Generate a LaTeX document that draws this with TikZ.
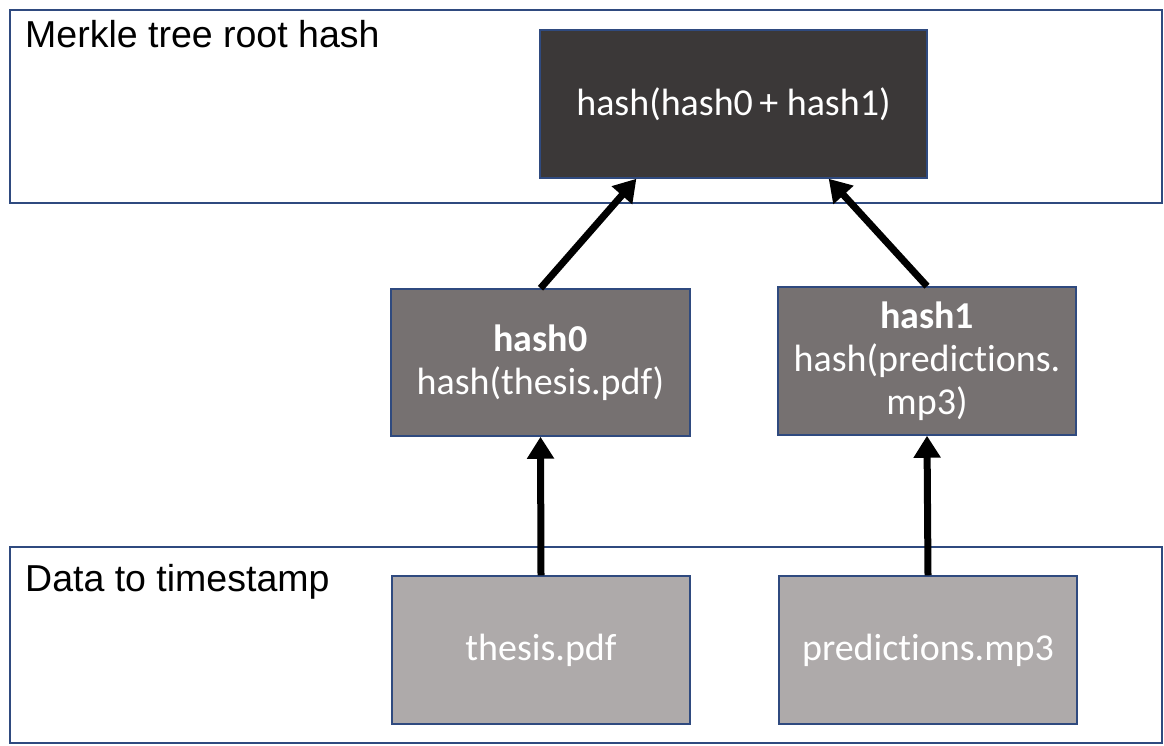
\documentclass[tikz,border=0pt]{standalone}
\usepackage{fontspec}
\setmainfont{Carlito}[Ligatures=NoCommon]
\newfontfamily\arialf{Liberation Sans}
\usetikzlibrary{arrows.meta,calc}
\definecolor{navy}{HTML}{2F4A7F}
\definecolor{rootc}{HTML}{3B3838}
\definecolor{midc}{HTML}{767171}
\definecolor{leafc}{HTML}{AEAAAA}
\tikzset{
  box/.style={draw=navy, line width=1.5pt, text=white, inner sep=0pt, align=center,
    font=\fontsize{38}{43}\selectfont},
  panel/.style={draw=navy, line width=1.5pt, fill=white, inner sep=0pt},
  lbl/.style={anchor=base west, inner sep=0pt, font=\arialf\fontsize{37.5}{42}\selectfont},
  arr/.style={line width=7pt, -{Triangle[length=22pt,width=26pt]}}
}
\begin{document}
\begin{tikzpicture}[x=1pt,y=-1pt]
\useasboundingbox (0,0) rectangle (1164,745);
\node[panel, minimum width=1152pt, minimum height=193pt] (toppanel) at (586,106.5) {};
\node[panel, minimum width=1152pt, minimum height=196pt] (botpanel) at (586,645) {};
\node[lbl] (toplbl) at (25,47) {Merkle tree root hash};
\node[lbl] (botlbl) at (25,591) {Data to timestamp};
\node[box, fill=rootc, minimum width=387pt, minimum height=148pt] (root) at (733.5,104) {hash(hash0\,+ hash1)};
\node[box, fill=midc, minimum width=299pt, minimum height=147pt] (h0) at (540.5,362.5) {\textbf{hash0}\\hash(thesis.pdf)};
\node[box, fill=midc, minimum width=298pt, minimum height=148pt] (h1) at (927,361) {\textbf{hash1}\\hash(predictions.\\mp3)};
\node[box, fill=leafc, minimum width=298pt, minimum height=148pt] (thesis) at (541,650) {thesis.pdf};
\node[box, fill=leafc, minimum width=298pt, minimum height=148pt] (pred) at (928,650) {predictions.mp3};
\draw[arr] (h0.north) -- ($(root.south west)!0.25!(root.south east)$);
\draw[arr] (h1.north) -- ($(root.south west)!0.745!(root.south east)$);
\draw[arr] (thesis.north) -- (h0.south);
\draw[arr] (pred.north) -- (h1.south);
\end{tikzpicture}
\end{document}
